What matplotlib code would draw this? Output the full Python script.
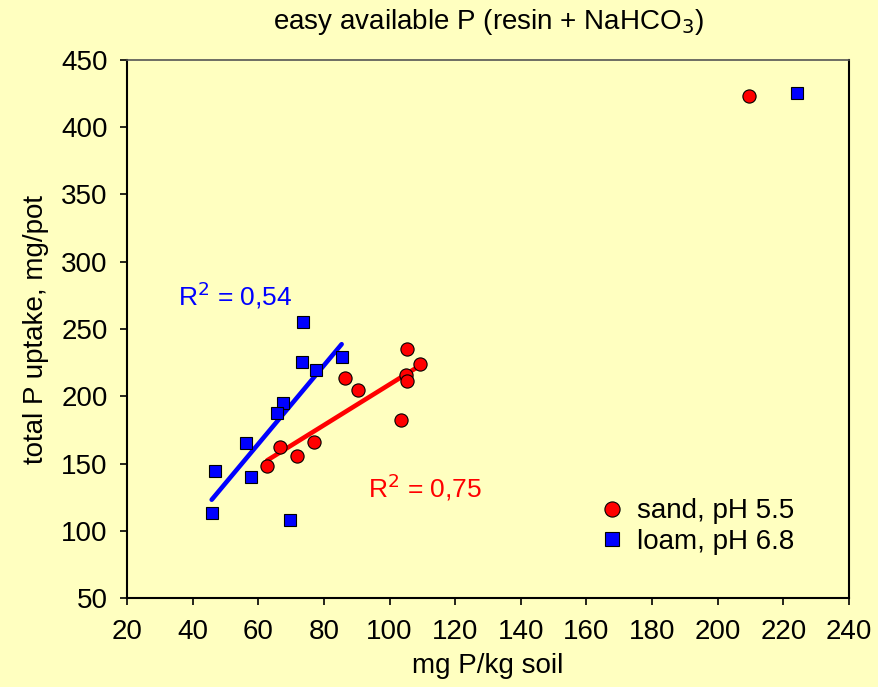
import numpy as np
import matplotlib.pyplot as plt

plt.rcParams['font.family'] = ['Liberation Sans', 'DejaVu Sans']

# sand, pH 5.5
sand_x = [105.2, 109.3, 86.4, 90.5, 105.0, 105.2, 103.4, 66.6, 77.0, 71.9, 62.7, 209.5]
sand_y = [235.1, 223.9, 213.8, 204.6, 215.8, 211.6, 182.3, 162.5, 166.2, 155.8, 148.4, 423.5]
# loam, pH 6.8
loam_x = [73.7, 73.2, 85.4, 77.6, 67.4, 65.6, 56.3, 46.8, 57.7, 45.8, 69.7, 224.0]
loam_y = [255.5, 225.7, 229.4, 219.5, 195.2, 187.3, 165.0, 144.6, 139.7, 113.0, 108.0, 425.7]

bg = '#FFFFC0'
fig = plt.figure(figsize=(8.79, 6.87), dpi=100, facecolor=bg)
ax = fig.add_axes([0.1445, 0.1295, 0.8214, 0.7832], facecolor=bg)

# trend lines fitted without the high outlier
for xs, ys, col in [(sand_x[:-1], sand_y[:-1], 'red'), (loam_x[:-1], loam_y[:-1], 'blue')]:
    k, b = np.polyfit(xs, ys, 1)
    xx = np.array([min(xs), max(xs)])
    ax.plot(xx, k * xx + b, color=col, lw=3.3, solid_capstyle='round', zorder=2)

ax.plot(sand_x, sand_y, 'o', ms=9.5, mfc='red', mec='black', mew=0.8,
        label='sand, pH 5.5', zorder=3)
ax.plot(loam_x, loam_y, 's', ms=8.5, mfc='blue', mec='black', mew=0.8,
        label='loam, pH 6.8', zorder=3)

ax.text(35.5, 275, 'R$^2$ = 0,54', color='blue', fontsize=19, va='center')
ax.text(93.4, 132, 'R$^2$ = 0,75', color='red', fontsize=19, va='center')

ax.set_xlim(20, 240)
ax.set_ylim(50, 450)
ax.set_xticks(range(20, 241, 20))
ax.set_yticks(range(50, 451, 50))
ax.tick_params(direction='out', length=5, labelsize=20, width=1.2)
ax.tick_params(axis='x', pad=10)
ax.tick_params(axis='y', pad=9)
ax.set_xlabel('mg P/kg soil', fontsize=20, labelpad=6)
ax.set_ylabel('total P uptake, mg/pot', fontsize=20, labelpad=9)
ax.set_title('easy available P (resin + NaHCO$_3$)', fontsize=20, pad=22)

for s in ['left', 'bottom', 'right']:
    ax.spines[s].set_color('black')
    ax.spines[s].set_linewidth(1.5)
ax.spines['top'].set_color('#555555')
ax.spines['top'].set_linewidth(1.2)

ax.legend(loc='upper left', bbox_to_anchor=(0.653, 0.185), frameon=False,
          fontsize=20, handlelength=1.0, handletextpad=0.4, labelspacing=0.15,
          markerscale=1.15, borderaxespad=0, borderpad=0)

fig.savefig('out.png', dpi=100, facecolor=bg)
